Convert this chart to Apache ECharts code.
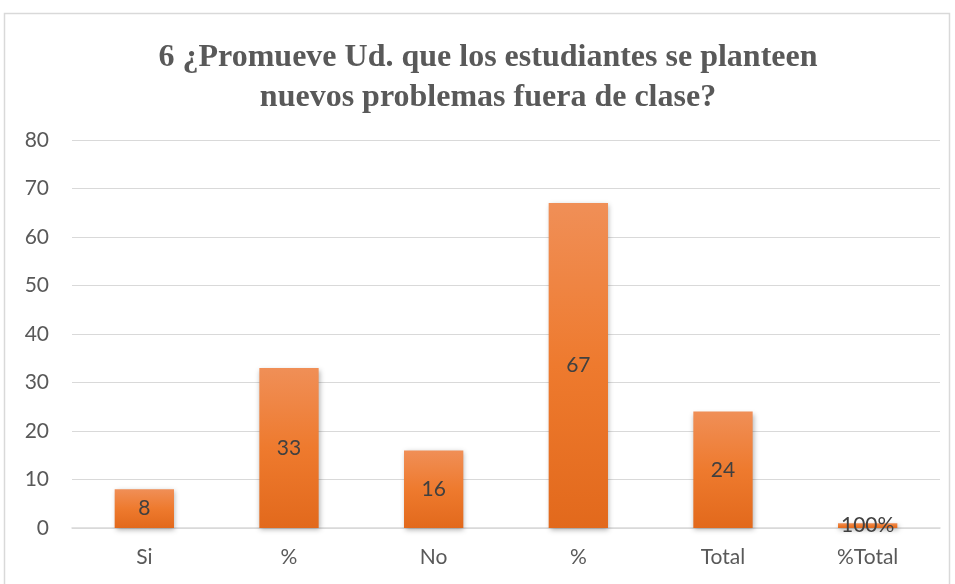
<!DOCTYPE html>
<html>
<head>
<meta charset="utf-8">
<script src="https://cdn.jsdelivr.net/npm/echarts@6/dist/echarts.min.js"></script>
<style>
  html, body { margin: 0; padding: 0; background: #fff; }
  #chart { width: 955px; height: 584px; }
</style>
</head>
<body>
<div id="chart"></div>
<script>
// datos
var categories = ['Si', '%', 'No', '%', 'Total', '%Total'];
var values = [8, 33, 16, 67, 24, 1];
var barLabels = ['8', '33', '16', '67', '24', '100%'];
var yTicks = [0, 10, 20, 30, 40, 50, 60, 70, 80];

var chart = echarts.init(document.getElementById('chart'));

chart.setOption({
  backgroundColor: '#fff',
  animation: false,
  title: {
    text: '6 ¿Promueve Ud. que los estudiantes se planteen\nnuevos problemas fuera de clase?',
    left: 483,
    textAlign: 'center',
    top: 33,
    textStyle: {
      fontFamily: '"Liberation Serif", serif',
      fontWeight: 'bold',
      fontSize: 32,
      lineHeight: 40,
      color: '#595959'
    }
  },
  graphic: [{
    type: 'rect',
    shape: { x: 4.5, y: 13.5, width: 945, height: 580 },
    style: { fill: 'none', stroke: '#d9d9d9', lineWidth: 1.5 },
    silent: true
  }],
  grid: {
    left: 72,
    right: 15,
    top: 140,
    bottom: 56
  },
  xAxis: {
    type: 'category',
    data: categories,
    axisTick: { show: false },
    axisLine: { lineStyle: { color: '#d9d9d9', width: 1.5 } },
    axisLabel: {
      fontFamily: 'Lato, sans-serif',
      fontSize: 21,
      color: '#595959',
      margin: 19
    }
  },
  yAxis: {
    type: 'value',
    min: yTicks[0],
    max: yTicks[yTicks.length - 1],
    interval: 10,
    axisLine: { show: false },
    axisTick: { show: false },
    splitLine: { lineStyle: { color: '#d9d9d9', width: 1 } },
    axisLabel: {
      fontFamily: 'Lato, sans-serif',
      fontSize: 21,
      color: '#595959',
      margin: 23
    }
  },
  series: [{
    type: 'bar',
    data: values,
    barWidth: '41%',
    itemStyle: {
      color: new echarts.graphic.LinearGradient(0, 0, 0, 1, [
        { offset: 0, color: '#f08f57' },
        { offset: 0.5, color: '#ee7a2e' },
        { offset: 1, color: '#e2691c' }
      ]),
      shadowColor: 'rgba(0,0,0,0.3)',
      shadowBlur: 5,
      shadowOffsetX: 1,
      shadowOffsetY: 2
    },
    label: {
      show: true,
      position: 'inside',
      fontFamily: 'Lato, sans-serif',
      fontSize: 21,
      color: '#404040',
      formatter: function (p) { return barLabels[p.dataIndex]; }
    }
  }]
});
</script>
</body>
</html>
